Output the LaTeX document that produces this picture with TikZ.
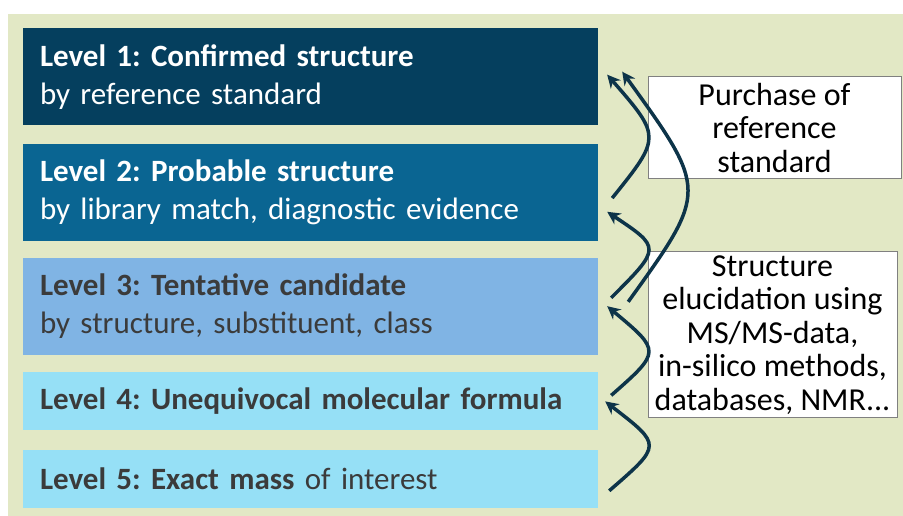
\documentclass[tikz,border=0pt]{standalone}
\usepackage{fontspec}
\setmainfont{Carlito}
\usetikzlibrary{positioning,arrows.meta}
\frenchspacing

\definecolor{bggreen}{HTML}{E2E8C5}
\definecolor{lvlone}{HTML}{053F5E}
\definecolor{lvltwo}{HTML}{0A6592}
\definecolor{lvlthree}{HTML}{80B4E4}
\definecolor{lvlfour}{HTML}{96E0F6}
\definecolor{darktext}{HTML}{3B3B3B}
\definecolor{arrowcol}{HTML}{0D3449}

\tikzset{
	levbox/.style={minimum width=575pt, text width=541pt, inner xsep=17pt, inner ysep=0pt,
		align=left, font=\fontsize{31}{38}\selectfont},
	levtall/.style={levbox, minimum height=97pt},
	levshort/.style={levbox, minimum height=58pt},
	notebox/.style={draw=black!50, fill=white, line width=1pt, inner sep=0pt,
		align=center, font=\fontsize{32}{33.5}\selectfont},
	uparrow/.style={arrowcol, line width=3.5pt, -{Stealth[length=13pt,width=13pt]}}
}

\begin{document}
\begin{tikzpicture}[x=1pt,y=1pt,node distance=18pt]

	\useasboundingbox (0,0) rectangle (903,516);
	\fill[bggreen] (8,0) rectangle (903,502);

	\node[levtall, fill=lvlone, text=white, anchor=north] (lvl1) at (310.5,488)
		{\textbf{Level 1: Confirmed structure}\\by reference standard};
	\node[levtall, fill=lvltwo, text=white, below=of lvl1] (lvl2)
		{\textbf{Level 2: Probable structure}\\by library match, diagnostic evidence};
	\node[levtall, fill=lvlthree, text=darktext, below=17pt of lvl2] (lvl3)
		{\textbf{Level 3: Tentative candidate}\\by structure, substituent, class};
	\node[levshort, fill=lvlfour, text=darktext, below=17pt of lvl3] (lvl4)
		{\textbf{Level 4: Unequivocal molecular formula}};
	\node[levshort, fill=lvlfour, text=darktext, below=19pt of lvl4] (lvl5)
		{\textbf{Level 5: Exact mass} of interest};

	\node[notebox, minimum width=253pt, minimum height=102pt] (purchase) at (774.5,388)
		{Purchase of\\reference\\standard};
	\node[notebox, minimum width=249pt, minimum height=166pt] (elucid) at (772.5,181)
		{Structure\\elucidation using\\MS/MS-data,\\in-silico methods,\\databases, NMR...};

	\draw[uparrow] ([xshift=11pt,yshift=-12pt]lvl5.east) .. controls +(53,46) and +(57,-44) .. ([xshift=7pt]lvl4.east);
	\draw[uparrow] ([xshift=13pt,yshift=6pt]lvl4.east) .. controls +(50,44) and +(54,-45) .. ([xshift=9pt,yshift=49pt]lvl3.south east);
	\draw[uparrow] ([xshift=13pt,yshift=-40pt]lvl3.north east) .. controls +(50,50) and +(54,-36) .. ([xshift=9pt,yshift=29pt]lvl2.south east);
	\draw[uparrow] ([xshift=14pt,yshift=-6pt]lvl2.east) .. controls +(49,61) and +(54,-62) .. ([xshift=9pt,yshift=2pt]lvl1.east);
	\draw[uparrow] ([xshift=30pt,yshift=-44pt]lvl3.north east) .. controls +(80,111) and +(86,-119) .. ([xshift=24pt,yshift=5pt]lvl1.east);

\end{tikzpicture}
\end{document}
